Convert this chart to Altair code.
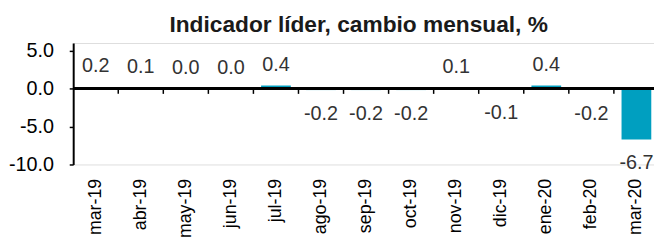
import altair as alt
import pandas as pd

months = ["mar-19", "abr-19", "may-19", "jun-19", "jul-19", "ago-19", "sep-19",
          "oct-19", "nov-19", "dic-19", "ene-20", "feb-20", "mar-20"]
values = [0.2, 0.1, 0.0, 0.0, 0.4, -0.2, -0.2, -0.2, 0.1, -0.1, 0.4, -0.2, -6.7]
y_ticks = [5, 0, -5, -10]
title_text = "Indicador líder, cambio mensual, %"

df = pd.DataFrame({"mes": months, "valor": values})
df["etiqueta"] = [f"{v:.1f}" for v in values]

FONT = "Liberation Sans"
BAR = "#009FC0"
TICK_LEN = 0.7  # x-axis tick length, in y units (about 5 px)

xscale = alt.Scale(domain=months, range=[0, 593], paddingInner=0.34, paddingOuter=0.17)
xscale_edges = alt.Scale(domain=months, range=[0, 593], paddingInner=0, paddingOuter=0)
yscale = alt.Scale(domain=[-10, 6], nice=False, zero=False)

xaxis = alt.Axis(labelAngle=-90, domain=False, ticks=False, labelFontSize=18,
                 labelPadding=14, labelFont=FONT, labelColor="#000", labelAlign="right",
                 labelBaseline="middle", labelOverlap=False)
yaxis = alt.Axis(values=y_ticks, grid=False, domainColor="#000", domainWidth=2,
                 tickColor="#000", tickSize=4, tickWidth=1.5, labelFontSize=20,
                 labelFont=FONT, labelColor="#000", labelPadding=16,
                 labelExpr="datum.value < 0 ? '-' + format(-datum.value, '.1f') : format(datum.value, '.1f')")

X = alt.X("mes:N", sort=months, scale=xscale, title=None, axis=xaxis)
Y = alt.Y("valor:Q", scale=yscale, title=None, axis=yaxis)

base = alt.Chart(df)

bars = base.mark_bar(color=BAR).encode(x=X, y=Y)

pos_text = base.transform_filter("datum.valor >= 0").mark_text(
    dy=-21, fontSize=20, font=FONT, color="#333", baseline="middle"
).encode(x=X, y=Y, text="etiqueta:N")

neg_text = base.transform_filter("datum.valor < 0").mark_text(
    dy=24, fontSize=20, font=FONT, color="#333", baseline="middle"
).encode(x=X, y=Y, text="etiqueta:N")

zero_line = base.mark_rule(color="#000", strokeWidth=2).encode(
    y=alt.Y(datum=0, scale=yscale, axis=yaxis, title=None)
)

edge_ticks = base.transform_filter("datum.mes != 'mar-19'").mark_rule(
    color="#000", strokeWidth=1.5
).encode(
    x=alt.X("mes:N", sort=months, scale=xscale_edges, axis=None, bandPosition=0),
    y=alt.Y(datum=0, scale=yscale, axis=yaxis, title=None),
    y2=alt.Y2(datum=-TICK_LEN),
)

main = alt.layer(bars, pos_text, neg_text, zero_line)

chart = alt.layer(main, edge_ticks).resolve_scale(x="independent").properties(
    width=588,
    height=123,
    autosize=alt.AutoSizeParams(type="none"),
    padding={"left": 66, "top": 34, "right": 0, "bottom": 73},
    title=alt.Title(title_text, fontSize=23, font=FONT, fontWeight="bold", color="#1a1a1a",
                    offset=4, anchor="middle", frame="group", dx=-5),
).configure_view(stroke=None).configure(background="white")

chart.save("out.html", embed_options={"renderer": "svg", "actions": False})
